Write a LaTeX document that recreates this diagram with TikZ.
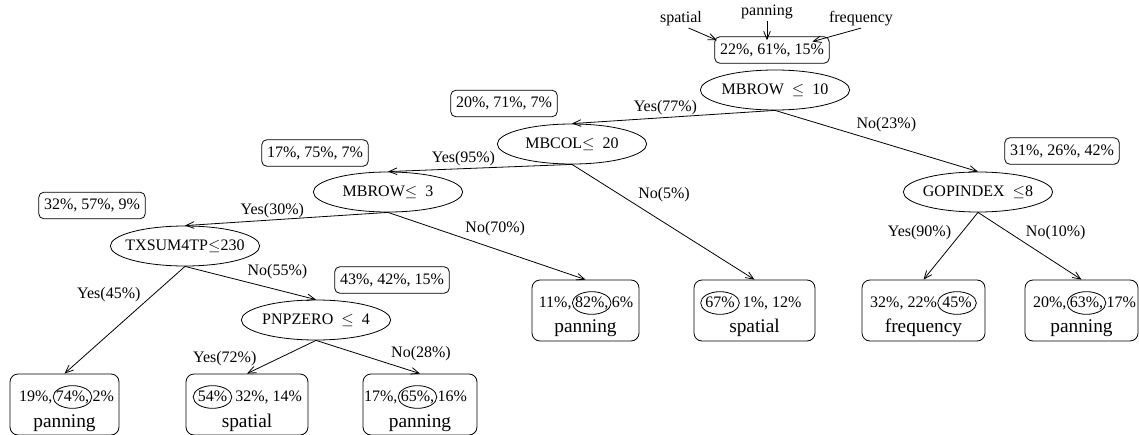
\documentclass[tikz,border=0pt]{standalone}
\usepackage{fontspec}
\setmainfont{Liberation Serif}
\usetikzlibrary{shapes.geometric,positioning,arrows.meta}

\begin{document}
\begin{tikzpicture}[x=0.75pt,y=-0.75pt,
        font=\fontsize{12}{14}\selectfont,
        line width=0.6pt,
        >={Straight Barb[length=6pt,width=5pt]},
        test/.style={ellipse,draw,minimum width=112pt,minimum height=30pt,inner xsep=-12pt,inner ysep=0pt},
        dist/.style={draw,rounded corners=4pt,inner xsep=4pt,minimum height=20pt},
        leaf/.style={draw,rounded corners=6pt,minimum height=45.75pt},
        pick/.style={ellipse,draw,inner xsep=-3pt,inner ysep=0pt,minimum width=29pt,minimum height=17pt,text height=9pt,text depth=2.5pt},
        num/.style={inner sep=0pt,text height=9pt,text depth=2.5pt},
        cls/.style={font=\fontsize{14.5}{16}\selectfont,inner sep=0pt},
        lab/.style={inner sep=1.5pt}]
        \useasboundingbox (0,0) rectangle (1139,435);

        \node[dist] (root) at (772,50) {22\%, 61\%, 15\%};
        \node[inner sep=1pt] (sp) at (681,19) {spatial};
        \node[inner sep=1pt] (pa) at (767,12) {panning};
        \node[inner sep=1pt] (fr) at (861,19) {frequency};
        \draw[->] (sp.-50) -- ([xshift=2pt,yshift=-3pt]root.north west);
        \draw[->] (pa.south) -- ([yshift=-3pt]pa.south |- root.north);
        \draw[->] (fr.south) -- ([xshift=-13pt,yshift=-4pt]root.north east);

        \node[test] (m1) at (775,90) {MBROW ~$\leq$~ 10};
        \node[test] (m2) at (572,144) {MBCOL$\leq$~~20};
        \node[test] (m3) at (388,192) {MBROW$\leq$~~3};
        \node[test] (m4) at (185,246) {TXSUM4TP$\leq$230};
        \node[test] (m5) at (316,320) {PNPZERO ~$\leq$~ 4};
        \node[test] (m6) at (978,192) {GOPINDEX ~$\leq$8};

        \node[dist] (d1) at (504,103.5) {20\%, 71\%, 7\%};
        \node[dist] (d2) at (315,153) {17\%, 75\%, 7\%};
        \node[dist] (d3) at (92,205.5) {32\%, 57\%, 9\%};
        \node[dist] (d4) at (392,280) {43\%, 42\%, 15\%};
        \node[dist] (d5) at (1062,151) {31\%, 26\%, 42\%};

        \node[leaf,minimum width=81.75pt] (l1) at (64.5,404.5) {};
        \node[pick] (c1) at (72.5,397) {74\%,};
        \node[num,left=0pt of c1] (c1l) {19\%,};
        \node[num,right=0pt of c1] (c1r) {2\%};
        \node[cls] (n1) at (64.5,423) {panning};

        \node[leaf,minimum width=91.5pt] (l2) at (247,404.5) {};
        \node[pick] (c2) at (212.5,397) {54\%};
        \node[num,right=2pt of c2] (c2r) {32\%, 14\%};
        \node[cls] (n2) at (247,423) {spatial};

        \node[leaf,minimum width=85.5pt] (l3) at (420,404.5) {};
        \node[pick] (c3) at (417.5,397) {65\%,};
        \node[num,left=0pt of c3] (c3l) {17\%,};
        \node[num,right=0pt of c3] (c3r) {16\%};
        \node[cls] (n3) at (420,423) {panning};

        \node[leaf,minimum width=80.25pt] (l4) at (585.5,310.5) {};
        \node[pick] (c4) at (591.7,303) {82\%,};
        \node[num,left=0pt of c4] (c4l) {11\%,};
        \node[num,right=0pt of c4] (c4r) {6\%};
        \node[cls] (n4) at (585.5,328) {panning};

        \node[leaf,minimum width=90.75pt] (l5) at (754.5,310.5) {};
        \node[pick] (c5) at (720,303) {67\%};
        \node[num,right=2pt of c5] (c5r) {1\%, 12\%};
        \node[cls] (n5) at (754.5,328) {spatial};

        \node[leaf,minimum width=92.25pt] (l6) at (923.5,310.5) {};
        \node[pick] (c6) at (957,303) {45\%};
        \node[num,left=0pt of c6] (c6l) {32\%, 22\%};
        \node[cls] (n6) at (923.5,328) {frequency};

        \node[leaf,minimum width=84.75pt] (l7) at (1081.5,310.5) {};
        \node[pick] (c7) at (1086.5,303) {63\%,};
        \node[num,left=0pt of c7] (c7l) {20\%,};
        \node[num,right=0pt of c7] (c7r) {17\%};
        \node[cls] (n7) at (1081.5,328) {panning};

        \draw[->] (m1.south) -- node[lab,pos=0.54,above] (e1) {Yes(77\%)} (m2.north);
        \draw[->] (m1.south) -- node[lab,pos=0.39,above right] (e2) {No(23\%)} (m6.north);
        \draw[->] (m2.south) -- node[lab,pos=0.59,above] (e3) {Yes(95\%)} (m3.north);
        \draw[->] (m2.south) -- node[lab,pos=0.35,above right] (e4) {No(5\%)} (l5.north);
        \draw[->] (m3.south) -- node[lab,pos=0.57,above] (e5) {Yes(30\%)} (m4.north);
        \draw[->] (m3.south) -- node[lab,pos=0.38,above right] (e6) {No(70\%)} (l4.north);
        \draw[->] (m4.south) -- node[lab,pos=0.35,above left] (e7) {Yes(45\%)} (l1.north);
        \draw[->] (m4.south) -- node[lab,pos=0.46,above right] (e8) {No(55\%)} (m5.north);
        \draw[->] (m5.south) -- node[lab,pos=0.83,above left] (e9) {Yes(72\%)} (l2.north);
        \draw[->] (m5.south) -- node[lab,pos=0.70,above right] (e10) {No(28\%)} (l3.north);
        \draw[->] (m6.south) -- node[lab,pos=0.45,above left] (e11) {Yes(90\%)} (l6.north);
        \draw[->] (m6.south) -- node[lab,pos=0.44,above right] (e12) {No(10\%)} (l7.north);
    \end{tikzpicture}
\end{document}
